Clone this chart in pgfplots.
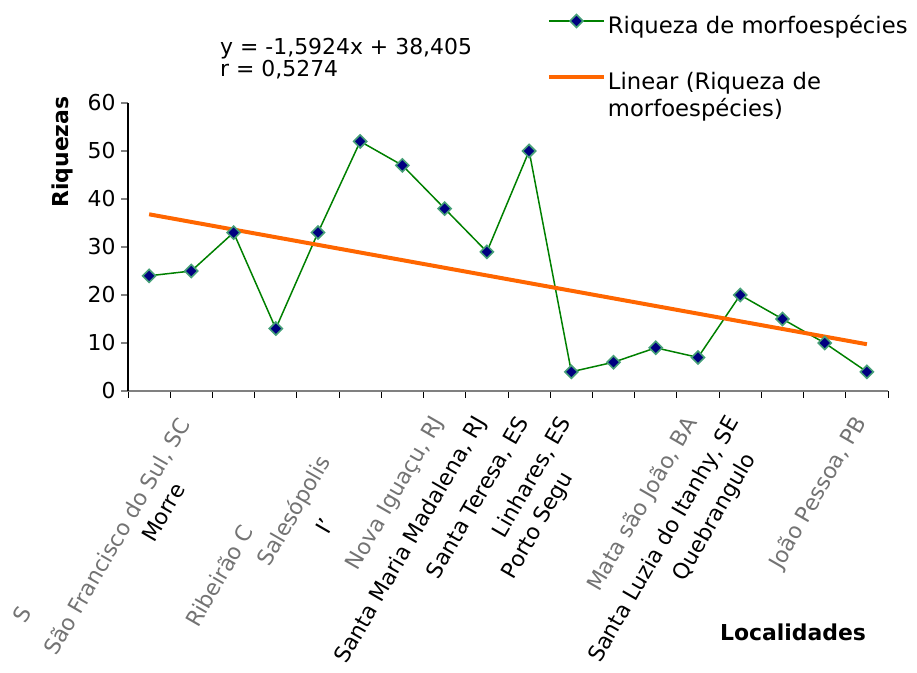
\documentclass[border=0pt]{standalone}
\usepackage{fontspec}
\setmainfont{DejaVu Sans}
\usepackage{pgfplots}
\pgfplotsset{compat=1.18}
\definecolor{serieGreen}{RGB}{0,128,0}
\definecolor{markFill}{RGB}{0,0,128}
\definecolor{markEdge}{RGB}{70,160,120}
\definecolor{trendOrange}{RGB}{255,102,0}
\definecolor{axgray}{RGB}{128,128,128}
\newcommand{\fs}{\fontsize{22}{26.4}\selectfont}
\newcommand{\fl}{\fontsize{22.8}{27}\selectfont}
\tikzset{
  lab/.style={rotate=60, anchor=east, font=\fs, inner sep=0pt},
  glab/.style={lab, text=black!55},
}
\begin{document}
\begin{tikzpicture}
\path[use as bounding box] (0,0) rectangle (917bp,673bp);
\begin{axis}[
  at={(128bp,282bp)}, anchor=south west,
  scale only axis, width=760bp, height=288bp,
  xmin=-0.5, xmax=17.5, ymin=0, ymax=60,
  axis x line*=bottom, axis y line*=left,
  x axis line style={draw=axgray, line width=2bp},
  y axis line style={draw=black, line width=1.2bp},
  xtick={-0.5,0.5,...,17.5}, xticklabels={},
  ytick={0,10,...,60},
  tick align=outside,
  major tick length=7bp,
  x tick style={black, line width=0.8bp},
  y tick style={axgray, line width=1.2bp},
  yticklabel style={font=\fs, xshift=-2bp},
  /pgf/number format/assume math mode=true,
  clip=false,
  legend cell align=left,
  legend style={at={(0.551,1.3126)}, anchor=north west, draw=none, fill=none,
    font=\fl, inner sep=0pt, row sep=32bp,
    nodes={inner sep=2bp}},
  legend image code/.code={\draw[mark repeat=2,mark phase=2,#1] plot coordinates {(0bp,4bp) (27.5bp,4bp) (55bp,4bp)};},
]
\addplot[serieGreen, line width=1.5bp, mark=square*, mark size=4.6bp,
  mark options={rotate=45, fill=markFill, draw=markEdge, line width=1.6bp, solid}]
  coordinates {(0,24) (1,25) (2,33) (3,13) (4,33) (5,52) (6,47) (7,38) (8,29)
               (9,50) (10,4) (11,6) (12,9) (13,7) (14,20) (15,15) (16,10) (17,4)};
\addlegendentry{Riqueza de morfoespécies}
\addplot[trendOrange, line width=4bp] coordinates {(0,36.813) (17,9.742)};
\addlegendentry{\begin{tabular}[t]{@{}l@{}}Linear (Riqueza de\\morfoespécies)\end{tabular}}
% category labels (as drawn, partly truncated)
\node[glab] at (axis cs:-2.92,-45.2) {S};
\node[glab] at (axis cs:0.85,-6.2) {São Francisco do Sul, SC};
\node[lab]  at (axis cs:0.71,-19.6) {Morre};
\node[glab] at (axis cs:2.33,-28.3) {Ribeirão C};
\node[glab] at (axis cs:4.18,-14.0) {Salesópolis};
\node[lab]  at (axis cs:4.25,-26.9) {I'};
\node[glab] at (axis cs:6.87,-5.8) {Nova Iguaçu, RJ};
\node[lab]  at (axis cs:7.87,-5.8) {Santa Maria Madalena, RJ};
\node[lab]  at (axis cs:8.87,-5.8) {Santa Teresa, ES};
\node[lab]  at (axis cs:9.87,-5.8) {Linhares, ES};
\node[lab]  at (axis cs:9.93,-17.3) {Porto Segu};
\node[glab] at (axis cs:12.87,-5.8) {Mata são João, BA};
\node[lab]  at (axis cs:13.87,-5.8) {Santa Luzia do Itanhy, SE};
\node[lab]  at (axis cs:14.25,-13.5) {Quebrangulo};
\node[glab] at (axis cs:16.87,-5.8) {João Pessoa, PB};
\end{axis}
\node[rotate=90, font=\fs\bfseries] at (62bp,521bp) {Riquezas};
\node[font=\fs\bfseries] at (793bp,41bp) {Localidades};
\node[anchor=base west, font=\fs, inner sep=0pt] at (220bp,618bp) {y = -1,5924x + 38,405};
\node[anchor=base west, font=\fs, inner sep=0pt] at (220bp,596bp) {r = 0,5274};
\end{tikzpicture}
\end{document}
